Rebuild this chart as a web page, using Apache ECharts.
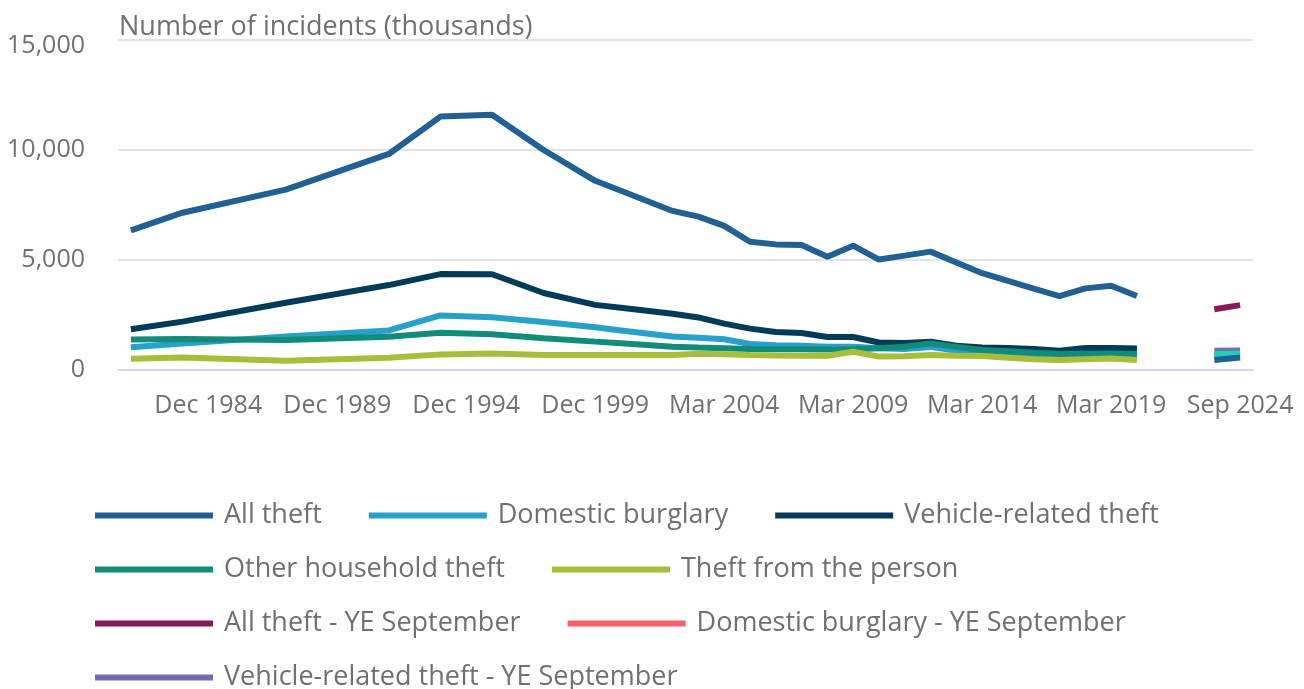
<!DOCTYPE html>
<html lang="en">
<head>
    <meta charset="UTF-8">
    <title>Theft incidents</title>
    <script src="https://cdn.jsdelivr.net/npm/echarts@6/dist/echarts.min.js"></script>
</head>
<body style="height: 100%; margin: 0">
<div id="chart" style="width: 1304px; height: 689px"></div>

<script>
    // x categories (survey periods) - labels shown every 5th
    let periods = ['Dec 1981','Dec 1982','Dec 1983','Dec 1984','Dec 1985','Dec 1986','Dec 1987','Dec 1988','Dec 1989','Dec 1990',
        'Dec 1991','Dec 1992','Dec 1993','Dec 1994','Dec 1995','Dec 1996','Dec 1997','Dec 1998','Dec 1999','Dec 2000',
        'Mar 2001','Mar 2002','Mar 2003','Mar 2004','Mar 2005','Mar 2006','Mar 2007','Mar 2008','Mar 2009','Mar 2010',
        'Mar 2011','Mar 2012','Mar 2013','Mar 2014','Mar 2015','Mar 2016','Mar 2017','Mar 2018','Mar 2019','Mar 2020',
        'Mar 2021','Mar 2022','Sep 2023','Sep 2024'];

    let allTheft = [6350,null,7150,null,null,null,8200,null,null,null,
        9820,null,11520,null,11600,null,10000,null,8600,8150,
        null,7230,6970,6550,5830,5710,5680,5150,5650,5020,
        5200,5380,4890,4400,4050,3700,3360,3710,3830,3360,
        null,null,null,null];
    let domesticBurglary = [1030,null,1200,null,null,null,1520,null,null,null,
        1800,null,2480,null,2400,null,2180,null,1940,1800,
        null,1520,1470,1400,1180,1130,1100,1060,1060,990,
        950,1050,870,760,720,650,620,650,660,640,
        null,null,null,null];
    let vehicleTheft = [1850,null,2200,null,null,null,3060,null,null,null,
        3860,null,4360,null,4350,null,3500,null,2960,2830,
        null,2560,2390,2110,1880,1730,1680,1500,1500,1250,
        1230,1280,1100,1020,1000,960,880,1000,1000,980,
        null,null,null,null];
    let otherHousehold = [1390,null,1410,null,null,null,1360,null,null,null,
        1510,null,1690,null,1630,null,1440,null,1290,1220,
        null,1060,1020,990,950,940,940,930,940,990,
        1060,1210,1050,910,850,780,730,740,750,730,
        null,null,null,null];
    let theftPerson = [510,null,570,null,null,null,420,null,null,null,
        560,null,710,null,750,null,680,null,680,680,
        null,680,740,720,680,660,650,650,830,610,
        620,680,650,640,560,490,460,490,520,460,
        null,null,null,null];

    // year ending September points (last two periods only)
    let allTheftYE = [2760, 2950];
    let burglaryYE = [680, 690];
    let vehicleYE = [880, 885];
    let otherYE = [725, 755];
    let personYE = [455, 570];

    let names = ['All theft','Domestic burglary','Vehicle-related theft','Other household theft','Theft from the person',
        'All theft - YE September','Domestic burglary - YE September','Vehicle-related theft - YE September',
        'Other household theft - YE September','Theft from the person - YE September'];
    let colors = ['#206095','#27a0cc','#003c57','#118c7b','#a8bd3a','#871a5b','#f66068','#746cb1','#22d0b6','#206095'];

    function padYE(vals) {
        let out = periods.map(function () { return null; });
        out[periods.length - 2] = vals[0];
        out[periods.length - 1] = vals[1];
        return out;
    }

    let seriesData = [allTheft, domesticBurglary, vehicleTheft, otherHousehold, theftPerson,
        padYE(allTheftYE), padYE(burglaryYE), padYE(vehicleYE), padYE(otherYE), padYE(personYE)];

    let fontFam = '"Open Sans", sans-serif';
    let grey = '#707070';
    let showEvery5 = function (i) { return (i - 3) % 5 === 0; };

    function legendRow(items, top) {
        return {
            data: items, top: top, left: 95, right: 10, padding: 0,
            icon: 'rect', itemWidth: 118, itemHeight: 6, itemGap: 47,
            selectedMode: false,
            textStyle: {fontFamily: fontFam, fontSize: 27, color: grey, padding: [0, 0, 0, 6]}
        };
    }

    let myChart = echarts.init(document.getElementById('chart'));
    let option = {
        animation: false,
        color: colors,
        title: {
            text: 'Number of incidents (thousands)',
            left: 119, top: 14, padding: 0,
            textStyle: {fontFamily: fontFam, fontSize: 27, fontWeight: 'normal', color: grey}
        },
        legend: [
            legendRow(names.slice(0, 3), 502),
            legendRow(names.slice(3, 5), 556),
            legendRow(names.slice(5, 7), 610),
            legendRow(names.slice(7, 8), 664)
        ],
        grid: {left: 118, right: 51, top: 40, bottom: 319},
        xAxis: {
            type: 'category',
            data: periods,
            boundaryGap: true,
            axisLine: {lineStyle: {color: '#cfd9ec', width: 2}},
            axisTick: {alignWithLabel: true, interval: showEvery5, length: 20, lineStyle: {color: '#cfd9ec', width: 2}},
            axisLabel: {interval: showEvery5, margin: 23, fontFamily: fontFam, fontSize: 25, color: grey}
        },
        yAxis: {
            type: 'value',
            min: 0, max: 15000, interval: 5000,
            axisLabel: {
                margin: 33, fontFamily: fontFam, fontSize: 25, color: grey,
                formatter: function (v) {
                    let s = v.toLocaleString('en-GB');
                    return v === 15000 ? '{top|' + s + '}' : s;
                },
                rich: {top: {fontFamily: fontFam, fontSize: 25, color: grey, padding: [12, 0, 0, 0]}}
            },
            splitLine: {lineStyle: {color: '#e3e3e3', width: 2}}
        },
        series: seriesData.map(function (d, i) {
            return {
                name: names[i],
                type: 'line',
                data: d,
                symbol: 'none',
                connectNulls: true,
                lineStyle: {width: 6, color: colors[i]},
                itemStyle: {color: colors[i]}
            };
        })
    };
    myChart.setOption(option);
</script>
</body>
</html>
